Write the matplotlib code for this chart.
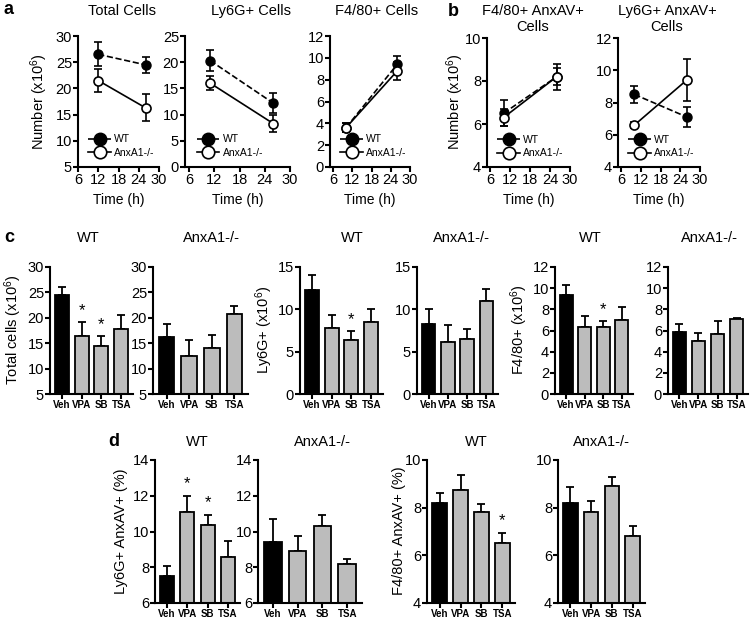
import numpy as np
import matplotlib
matplotlib.use('Agg')
import matplotlib.pyplot as plt
from matplotlib.lines import Line2D

plt.rcParams['font.family'] = ['Liberation Sans', 'DejaVu Sans']
plt.rcParams['mathtext.default'] = 'regular'

W, H = 754, 621

# ---- panels a and b: time courses ----
ab_titles = ['Total Cells', 'Ly6G+ Cells', 'F4/80+ Cells',
             'F4/80+ AnxAV+\nCells', 'Ly6G+ AnxAV+\nCells']
ab_time = [[12, 26], [11, 26], [10, 26], [10, 26], [10, 26]]
wt_mean = [[26.5, 24.5], [20.3, 12.2], [3.6, 9.4], [6.5, 8.2], [8.5, 7.1]]
wt_err = [[2.3, 1.5], [2.0, 1.9], [0.4, 0.8], [0.6, 0.4], [0.5, 0.6]]
ko_mean = [[21.5, 16.3], [16.0, 8.3], [3.6, 8.8], [6.3, 8.2], [6.6, 9.4]]
ko_err = [[2.2, 2.6], [1.3, 1.7], [0.4, 0.8], [0.4, 0.6], [0.2, 1.3]]
ab_ylim = [(5, 30), (0, 25), (0, 12), (4, 10), (4, 12)]
ab_ystep = [5, 5, 2, 2, 2]
time_ticks = [6, 12, 18, 24, 30]

# ---- panels c and d: treatments ----
treatments = ['Veh', 'VPA', 'SB', 'TSA']
cd_titles = ['WT', 'AnxA1-/-', 'WT', 'AnxA1-/-', 'WT', 'AnxA1-/-',
             'WT', 'AnxA1-/-', 'WT', 'AnxA1-/-']
bar_mean = [[24.5, 16.4, 14.5, 17.8],
            [16.2, 12.5, 14.0, 20.7],
            [12.3, 7.8, 6.4, 8.5],
            [8.3, 6.1, 6.5, 11.0],
            [9.4, 6.3, 6.3, 7.0],
            [5.9, 5.0, 5.7, 7.1],
            [7.5, 11.1, 10.35, 8.6],
            [9.4, 8.9, 10.3, 8.2],
            [8.2, 8.75, 7.8, 6.5],
            [8.2, 7.8, 8.9, 6.8]]
bar_err = [[1.5, 2.7, 2.0, 2.8],
           [2.6, 3.2, 2.6, 1.7],
           [1.8, 1.5, 1.1, 1.5],
           [1.7, 2.0, 1.2, 1.4],
           [0.9, 1.1, 0.6, 1.2],
           [0.7, 0.8, 1.2, 0.1],
           [0.55, 0.9, 0.6, 0.85],
           [1.3, 0.85, 0.6, 0.25],
           [0.4, 0.6, 0.35, 0.45],
           [0.65, 0.5, 0.4, 0.45]]
bar_stars = [[1, 2], [], [2], [], [2], [], [1, 2], [], [3], []]
bar_ylim = [(5, 30), (5, 30), (0, 15), (0, 15), (0, 12), (0, 12),
            (6, 14), (6, 14), (4, 10), (4, 10)]
bar_ystep = [5, 5, 5, 5, 2, 2, 2, 2, 2, 2]

fig = plt.figure(figsize=(W / 100, H / 100), dpi=100)


def add_ax(x0, x1, y0, y1):
    return fig.add_axes([x0 / W, 1 - y1 / H, (x1 - x0) / W, (y1 - y0) / H])


def style(ax):
    for s in ['top', 'right']:
        ax.spines[s].set_visible(False)
    for s in ['left', 'bottom']:
        ax.spines[s].set_linewidth(1.5)
    ax.tick_params(width=1.5, length=3.5, labelsize=10.5, pad=0.8)


def ftext(x, y, s, **kw):
    fig.text(x / W, 1 - y / H, s, ha='center', va='center', **kw)


# panels a/b
ab_x = [(78, 159), (185, 290), (330, 410), (487, 570), (618, 700)]
ab_title_x = [122, 251, 377, 533, 667]
ab_title_y = [11, 11, 11, 19, 19]
for i in range(5):
    x0, x1 = ab_x[i]
    ax = add_ax(x0, x1, 36 if i < 3 else 38, 167)
    style(ax)
    ax.errorbar(ab_time[i], wt_mean[i], yerr=wt_err[i], color='k', ls='--',
                marker='o', ms=6.5, mfc='k', lw=1.2, capsize=3, elinewidth=1.2,
                capthick=1.2, zorder=3)
    ax.errorbar(ab_time[i], ko_mean[i], yerr=ko_err[i], color='k', ls='-',
                marker='o', ms=6.5, mfc='white', mew=1.2, lw=1.2, capsize=3,
                elinewidth=1.2, capthick=1.2, zorder=4)
    ax.set_xlim(5 if i else 6, 30)
    ax.set_xticks(time_ticks)
    lo, hi = ab_ylim[i]
    ax.set_ylim(lo, hi)
    ax.set_yticks(np.arange(lo, hi + 0.01, ab_ystep[i]))
    ax.set_xlabel('Time (h)', fontsize=10, labelpad=4)
    handles = [Line2D([], [], color='k', ls='--', marker='o', ms=9, mfc='k', lw=1.2),
               Line2D([], [], color='k', ls='-', marker='o', ms=9, mfc='white',
                      mew=1.2, lw=1.2)]
    ax.legend(handles, ['WT', 'AnxA1-/-'], loc='lower left', frameon=False,
              fontsize=7.5, handlelength=2.2, handletextpad=0.3,
              labelspacing=0.35, borderaxespad=0.2, bbox_to_anchor=(0.05, 0.02))
    ftext(ab_title_x[i], ab_title_y[i], ab_titles[i], fontsize=10.5,
          linespacing=1.2)

ftext(39, 102, 'Number (x10$^6$)', fontsize=10.5, rotation=90)
ftext(455, 102, 'Number (x10$^6$)', fontsize=10.5, rotation=90)

# panels c/d
cd_x = [(50, 133), (153, 248), (300, 383), (417, 498), (555, 633), (668, 748),
        (155, 240), (258, 362), (427, 515), (558, 645)]
cd_title_x = [88, 211, 352, 461, 590, 709, 197, 322, 476, 601]
pos = np.arange(len(treatments))
for i in range(10):
    x0, x1 = cd_x[i]
    if i < 6:
        y0, y1, ty = 267, 394, 238
    else:
        y0, y1, ty = 460, 603, 442
    ax = add_ax(x0, x1, y0, y1)
    style(ax)
    colors = ['black'] + ['#bcbcbc'] * 3
    ax.bar(pos, bar_mean[i], width=0.7, color=colors, edgecolor='k',
           linewidth=1.3, zorder=2)
    ax.errorbar(pos, bar_mean[i], yerr=[np.zeros(4), bar_err[i]], fmt='none',
                ecolor='k', elinewidth=1.3, capsize=3, capthick=1.3, zorder=1)
    lo, hi = bar_ylim[i]
    ax.set_ylim(lo, hi)
    ax.set_yticks(np.arange(lo, hi + 0.01, bar_ystep[i]))
    ax.set_xlim(-0.6, 3.6)
    ax.set_xticks(pos)
    ax.set_xticklabels(treatments, fontsize=7, fontweight='bold',
                       family=['Liberation Sans Narrow', 'Liberation Sans'])
    for j in bar_stars[i]:
        ax.text(j, bar_mean[i][j] + bar_err[i][j] + 0.03 * (hi - lo), '*',
                ha='center', va='bottom', fontsize=12)
    ftext(cd_title_x[i], ty, cd_titles[i], fontsize=10.5)

ftext(13, 330, 'Total cells (x10$^6$)', fontsize=10.5, rotation=90)
ftext(264, 330, 'Ly6G+ (x10$^6$)', fontsize=10.5, rotation=90)
ftext(519, 330, 'F4/80+ (x10$^6$)', fontsize=10.5, rotation=90)
ftext(121, 531, 'Ly6G+ AnxAV+ (%)', fontsize=10.5, rotation=90)
ftext(399, 531, 'F4/80+ AnxAV+ (%)', fontsize=10.5, rotation=90)

# panel letters
for lx, ly, letter in [(9, 10, 'a'), (453, 12, 'b'), (9, 238, 'c'), (114, 442, 'd')]:
    ftext(lx, ly, letter, fontsize=13, fontweight='bold')

fig.savefig('out.png', dpi=100)
